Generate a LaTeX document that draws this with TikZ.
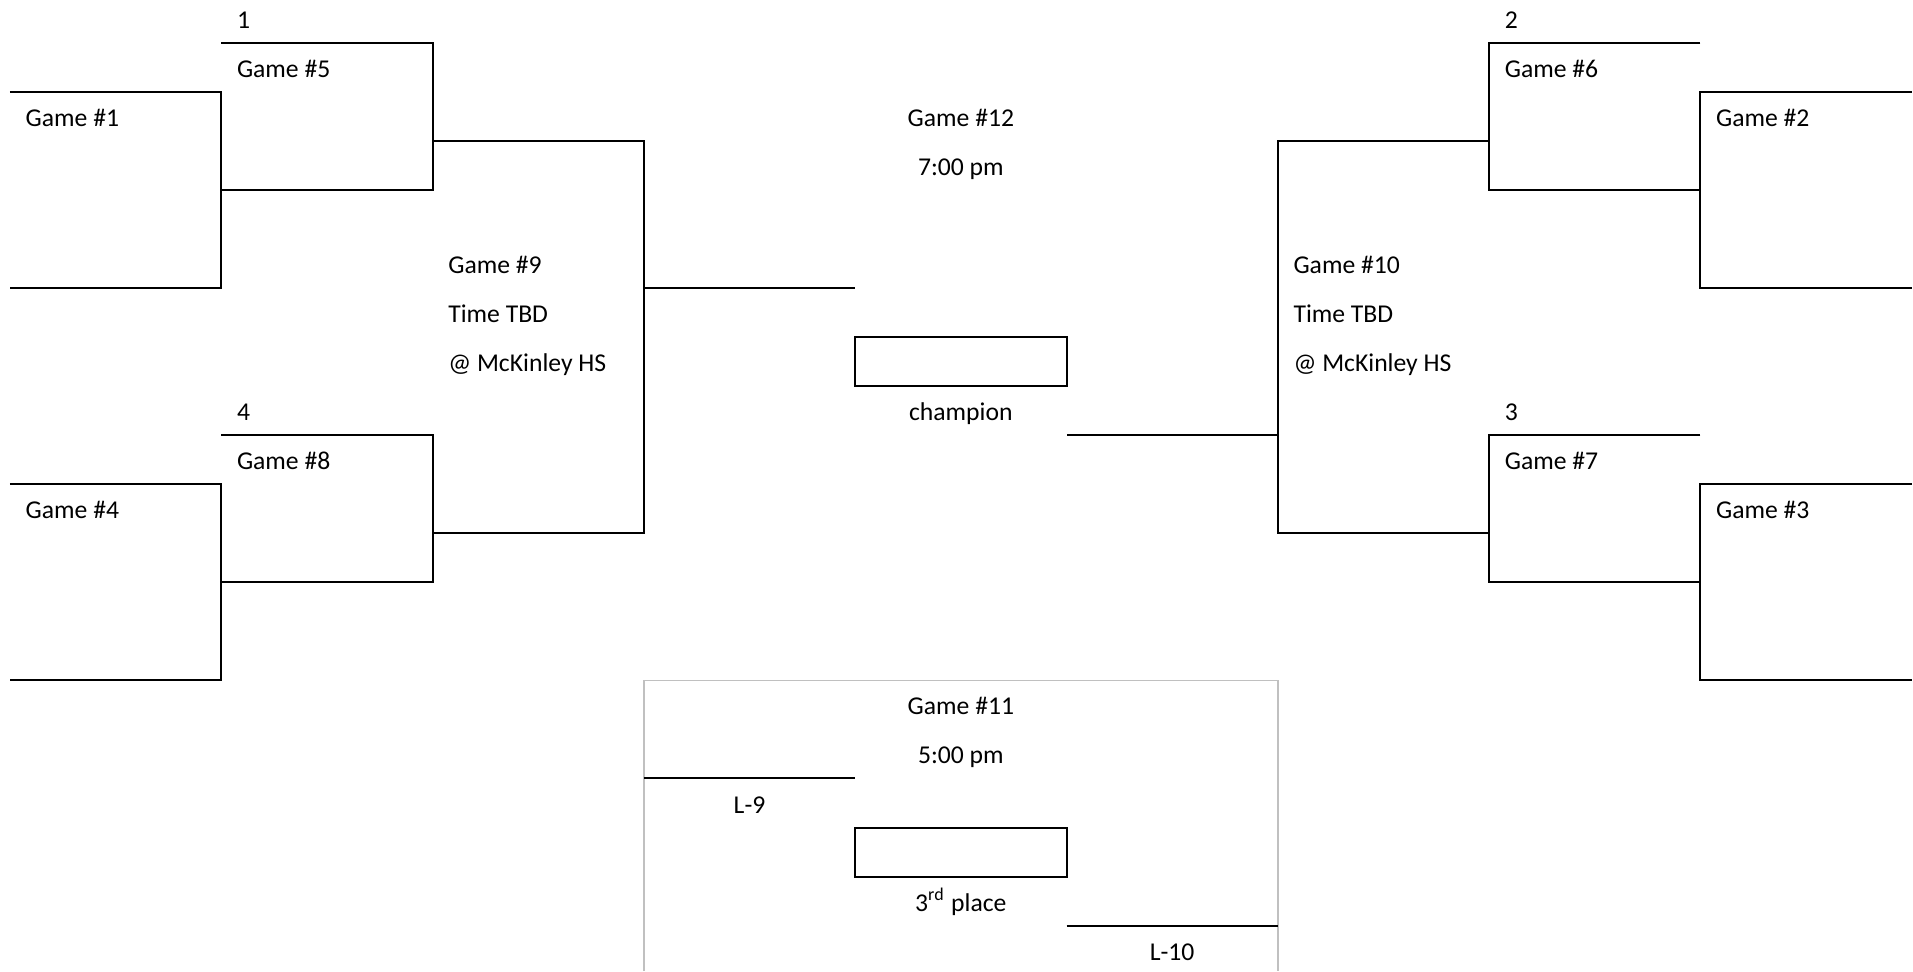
\documentclass[tikz,border=0pt]{standalone}
\usepackage{fontspec}
\setmainfont{Carlito}
\usepackage{tikz}
\usetikzlibrary{positioning}

\begin{document}
\begin{tikzpicture}[x=2.113cm,y=-0.4905cm,
    bline/.style={line width=0.57pt,black},
    frame/.style={line width=0.45pt,color={rgb,255:red,192;green,192;blue,192}},
    lbl/.style={anchor=base west,inner sep=0pt,font=\fontsize{7.3}{8.7}\selectfont},
    mid/.style={anchor=base,inner sep=0pt,font=\fontsize{7.3}{8.7}\selectfont}]
    % Page size
    \useasboundingbox (-0.0473,-0.8705) rectangle (9.006,18.926);

    % Left half of the bracket
    \draw[bline] (0,1) -- (1,1) -- (1,5) -- (0,5);
    \draw[bline] (1,0) -- (2,0) -- (2,3) -- (1,3);
    \draw[bline] (0,9) -- (1,9) -- (1,13) -- (0,13);
    \draw[bline] (1,8) -- (2,8) -- (2,11) -- (1,11);
    \draw[bline] (2,2) -- (3,2) -- (3,10) -- (2,10);
    \draw[bline] (3,5) -- (4,5);

    % Right half of the bracket
    \draw[bline] (9,1) -- (8,1) -- (8,5) -- (9,5);
    \draw[bline] (8,0) -- (7,0) -- (7,3) -- (8,3);
    \draw[bline] (9,9) -- (8,9) -- (8,13) -- (9,13);
    \draw[bline] (8,8) -- (7,8) -- (7,11) -- (8,11);
    \draw[bline] (7,2) -- (6,2) -- (6,10) -- (7,10);
    \draw[bline] (6,8) -- (5,8);

    % Final
    \draw[bline] (4,6) rectangle (5,7);

    % Third place game
    \draw[frame] (3,18.926) -- (3,13) -- (6,13) -- (6,18.926);
    \draw[bline] (3,15) -- (4,15);
    \draw[bline] (4,16) rectangle (5,17);
    \draw[bline] (5,18) -- (6,18);

    % Labels, left side
    \node[lbl] (seed1) at (1.071,-0.296) {1};
    \node[lbl] (g5) at (1.071,0.704) {Game \#5};
    \node[lbl] (g1) at (0.071,1.704) {Game \#1};
    \node[lbl] (g9) at (2.071,4.704) {Game \#9};
    \node[lbl] (g9time) at (2.071,5.704) {Time TBD};
    \node[lbl] (g9site) at (2.071,6.704) {@ McKinley HS};
    \node[lbl] (seed4) at (1.071,7.704) {4};
    \node[lbl] (g8) at (1.071,8.704) {Game \#8};
    \node[lbl] (g4) at (0.071,9.704) {Game \#4};

    % Labels, right side
    \node[lbl] (seed2) at (7.071,-0.296) {2};
    \node[lbl] (g6) at (7.071,0.704) {Game \#6};
    \node[lbl] (g2) at (8.071,1.704) {Game \#2};
    \node[lbl] (g10) at (6.071,4.704) {Game \#10};
    \node[lbl] (g10time) at (6.071,5.704) {Time TBD};
    \node[lbl] (g10site) at (6.071,6.704) {@ McKinley HS};
    \node[lbl] (seed3) at (7.071,7.704) {3};
    \node[lbl] (g7) at (7.071,8.704) {Game \#7};
    \node[lbl] (g3) at (8.071,9.704) {Game \#3};

    % Labels, middle
    \node[mid] (g12) at (4.5,1.704) {Game \#12};
    \node[mid] (g12time) at (4.5,2.704) {7:00 pm};
    \node[mid] (champ) at (4.5,7.704) {champion};
    \node[mid] (g11) at (4.5,13.704) {Game \#11};
    \node[mid] (g11time) at (4.5,14.704) {5:00 pm};
    \node[mid] (lose9) at (3.5,15.704) {L-9};
    \node[mid] (third) at (4.5,17.704) {3\textsuperscript{rd} place};
    \node[mid] (lose10) at (5.5,18.704) {L-10};
\end{tikzpicture}
\end{document}
